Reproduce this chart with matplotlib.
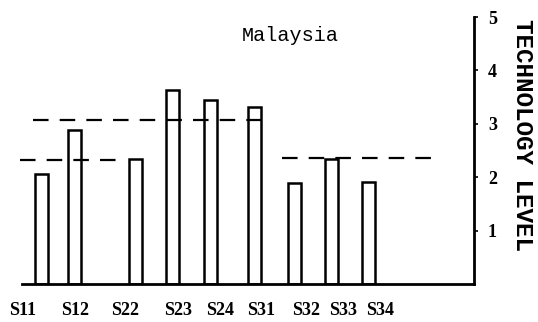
import matplotlib
matplotlib.use("Agg")
import matplotlib.pyplot as plt

# sectors and technology level
sectors = ["S11", "S12", "S22", "S23", "S24", "S31", "S32", "S33", "S34"]
levels = [2.06, 2.88, 2.34, 3.63, 3.45, 3.31, 1.89, 2.34, 1.91]

# horizontal placement (plot units, axis runs 22..474)
bar_x = [41, 74.5, 135.5, 172, 210, 254, 294.5, 331, 368]
label_x = [23, 75, 125, 178, 220, 261, 306, 343, 380]

# dashed reference levels: (x start, x end, level)
ref_start = [20, 33, 282]
ref_end = [125, 270, 440]
ref_level = [2.32, 3.07, 2.36]

y_ticks = [1, 2, 3, 4, 5]

W, H = 538, 322
fig = plt.figure(figsize=(W / 100, H / 100), dpi=100, facecolor="white")
ax = fig.add_axes([22 / W, (H - 284) / H, (474 - 22) / W, (284 - 17) / H])
ax.set_xlim(22, 474)
ax.set_ylim(0, 5)

ax.bar(bar_x, levels, width=13, facecolor="white", edgecolor="black",
       linewidth=1.8, zorder=2)

for x0, x1, lv in zip(ref_start, ref_end, ref_level):
    ax.plot([x0, x1], [lv, lv], color="black", linewidth=1.6,
            linestyle=(0, (7, 5)), zorder=3, clip_on=False)

for s in ["left", "top"]:
    ax.spines[s].set_visible(False)
ax.spines["right"].set_linewidth(2)
ax.spines["bottom"].set_linewidth(2)

ax.yaxis.tick_right()
ax.set_yticks(y_ticks)
ax.set_yticklabels([str(t) for t in y_ticks], family="Liberation Serif",
                   fontweight="bold", fontsize=13)
ax.tick_params(axis="y", length=3, width=1.2, pad=7)

ax.set_xticks(label_x)
ax.set_xticklabels(sectors, family="Liberation Serif", fontweight="bold",
                   fontsize=13)
ax.tick_params(axis="x", length=0, pad=13)

ax.text(290, 4.66, "Malaysia", family="Liberation Mono", fontsize=14.5,
        ha="center", va="center")

fig.text(522 / W, 1 - 135 / H, "TECHNOLOGY LEVEL", family="Liberation Mono",
         fontsize=17.5, fontweight="bold", rotation=-90, ha="center",
         va="center")

fig.savefig("out.png", dpi=100, facecolor="white")
